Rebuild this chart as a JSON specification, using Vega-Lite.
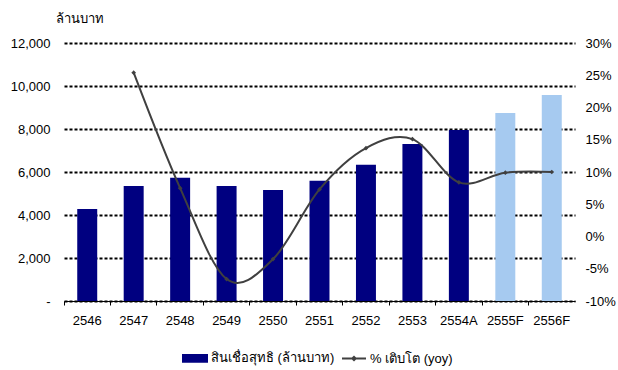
{
  "$schema": "https://vega.github.io/schema/vega-lite/v6.json",
  "autosize": "none",
  "width": 511,
  "height": 258,
  "padding": {"left": 64, "top": 43, "right": 43, "bottom": 69},
  "background": "white",
  "config": {
    "view": {"stroke": null},
    "font": "Liberation Sans, Arial, Noto Sans, sans-serif",
    "axis": {"labelFontSize": 13, "labelColor": "#000", "titleColor": "#000", "labelFont": "Liberation Sans, Arial, Noto Sans, sans-serif"},
    "legend": {"labelFontSize": 13, "labelColor": "#000", "labelFont": "Liberation Sans, Arial, Noto Sans, sans-serif"}
  },
  "data": {
    "values": [
      {"year": "2546", "loan": 4280, "growth": null, "f": false},
      {"year": "2547", "loan": 5350, "growth": 25.4, "f": false},
      {"year": "2548", "loan": 5730, "growth": 7.5, "f": false},
      {"year": "2549", "loan": 5350, "growth": -6.6, "f": false},
      {"year": "2550", "loan": 5160, "growth": -3.5, "f": false},
      {"year": "2551", "loan": 5590, "growth": 7.3, "f": false},
      {"year": "2552", "loan": 6340, "growth": 13.7, "f": false},
      {"year": "2553", "loan": 7300, "growth": 15.1, "f": false},
      {"year": "2554A", "loan": 7950, "growth": 8.4, "f": false},
      {"year": "2555F", "loan": 8740, "growth": 9.9, "f": true},
      {"year": "2556F", "loan": 9580, "growth": 10.0, "f": true}
    ]
  },
  "encoding": {
    "x": {
      "field": "year", "type": "ordinal", "sort": null,
      "scale": {"paddingInner": 0, "paddingOuter": 0},
      "axis": {
        "title": null, "labelAngle": 0, "bandPosition": 0,
        "domainColor": "#000", "domainWidth": 1, "tickColor": "#000", "tickSize": 4,
        "labelPadding": 9, "grid": false, "labelAlign": "center"
      }
    }
  },
  "layer": [
    {
      "mark": {"type": "bar", "width": {"band": 0.43}},
      "encoding": {
        "y": {
          "field": "loan", "type": "quantitative",
          "scale": {"domain": [0, 12000]},
          "axis": {
            "title": "ล้านบาท", "titleAngle": 0, "titleAlign": "left", "titleBaseline": "middle",
            "titleX": -9, "titleY": -25, "titleFontSize": 13, "titleFontWeight": "normal",
            "values": [0, 2000, 4000, 6000, 8000, 10000, 12000],
            "labelExpr": "datum.value == 0 ? '-\u00a0\u00a0\u00a0\u00a0\u00a0' : format(datum.value, ',')",
            "domain": false, "ticks": false, "labelPadding": 14,
            "grid": true, "gridColor": "#000", "gridDash": [3, 2], "gridWidth": 2
          }
        },
        "color": {
          "datum": "สินเชื่อสุทธิ (ล้านบาท)", "type": "nominal",
          "condition": {"test": "datum.f", "value": "#A6CAF0"},
          "scale": {"domain": ["สินเชื่อสุทธิ (ล้านบาท)", "% เติบโต (yoy)"], "range": ["#000080", "#404040"]},
          "legend": {
            "title": null, "orient": "none", "direction": "horizontal",
            "legendX": 118, "legendY": 302,
            "symbolSize": 576, "columnPadding": 3, "labelOffset": 3,
            "encode": {
              "symbols": {
                "update": {
                  "shape": {"signal": "datum.value == '% เติบโต (yoy)' ? 'M-1,0L1,0M-0.14,0L0,-0.14L0.14,0L0,0.14Z' : 'M-1,-0.28L1,-0.28L1,0.28L-1,0.28Z'"},
                  "fill": {"signal": "datum.value == '% เติบโต (yoy)' ? '#404040' : '#000080'"},
                  "stroke": {"signal": "datum.value == '% เติบโต (yoy)' ? '#404040' : 'transparent'"},
                  "strokeWidth": {"value": 2},
                  "opacity": {"value": 1}
                }
              }
            }
          }
        }
      }
    },
    {
      "mark": {"type": "line", "interpolate": "cardinal", "strokeWidth": 2},
      "encoding": {
        "y": {
          "field": "growth", "type": "quantitative",
          "scale": {"domain": [-10, 30]},
          "axis": {
            "orient": "right", "title": null,
            "values": [-10, -5, 0, 5, 10, 15, 20, 25, 30],
            "labelExpr": "datum.value + '%'",
            "domain": false, "ticks": false, "grid": false, "labelPadding": 10
          }
        },
        "color": {"datum": "% เติบโต (yoy)", "type": "nominal"}
      }
    },
    {
      "mark": {"type": "point", "shape": "diamond", "filled": true, "size": 22, "opacity": 1},
      "encoding": {
        "y": {"field": "growth", "type": "quantitative", "scale": {"domain": [-10, 30]}, "axis": null},
        "color": {"datum": "% เติบโต (yoy)", "type": "nominal"}
      }
    }
  ],
  "resolve": {"scale": {"y": "independent"}}
}
